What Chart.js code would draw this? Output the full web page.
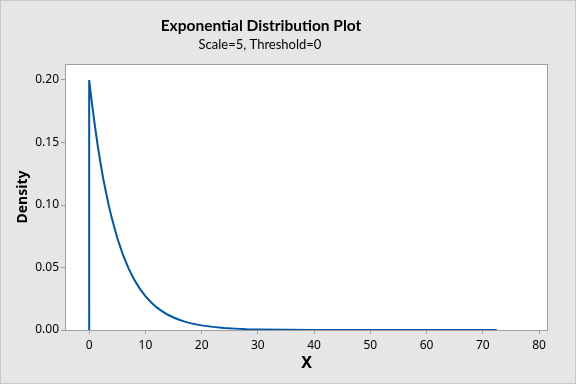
<!DOCTYPE html>
<html lang="en">

<head>
    <meta charset="UTF-8">
    <title>Exponential Distribution Plot</title>
    <script src="https://cdn.jsdelivr.net/npm/chart.js@4.4.1/dist/chart.umd.min.js"></script>
    <style>
        html, body { margin: 0; padding: 0; }
        body { width: 576px; height: 384px; overflow: hidden; }
        #wrap { position: relative; width: 574px; height: 382px; border: 1px solid #c9c9c9; background: #e6e6e6; }
    </style>
</head>

<body>
    <div id="wrap"><canvas id="expChart" width="574" height="382"></canvas></div>

    <script>
        const titleText = 'Exponential Distribution Plot';
        const subtitleText = 'Scale=5, Threshold=0';

        // density values
        const xValues = [0, 0, 0.5, 1, 1.5, 2, 2.5, 3, 3.5, 4, 5, 6, 7, 8, 9, 10, 11, 12, 13, 14, 15, 16, 17, 18, 19, 20,
            22, 24, 26, 28, 30, 35, 40, 50, 60, 72.5];
        const densityValues = [0, 0.200, 0.181, 0.164, 0.148, 0.134, 0.121, 0.110, 0.0993, 0.0899, 0.0736, 0.0602, 0.0493,
            0.0404, 0.0331, 0.0271, 0.0222, 0.0181, 0.0149, 0.0122, 0.0100, 0.0082, 0.0067, 0.0055, 0.0045, 0.0037,
            0.0025, 0.0016, 0.0011, 0.0007, 0.0005, 0.0002, 0.0001, 0.0000, 0.0000, 0.0000];

        const xTicks = [0, 10, 20, 30, 40, 50, 60, 70, 80];
        const yTicks = [0.00, 0.05, 0.10, 0.15, 0.20];

        const points = xValues.map((x, i) => ({ x: x, y: densityValues[i] }));

        const fontFamily = '"Noto Sans", "Open Sans", sans-serif';
        const titleFamily = 'Lato, "Noto Sans", sans-serif';
        const axisGray = '#a0a0a0';

        const plotFrame = {
            id: 'plotFrame',
            beforeDraw(chart) {
                const { ctx, chartArea: a } = chart;
                ctx.save();
                ctx.fillStyle = '#ffffff';
                ctx.fillRect(a.left, a.top, a.right - a.left, a.bottom - a.top);
                ctx.restore();
            },
            afterDraw(chart) {
                const { ctx, chartArea: a } = chart;
                ctx.save();
                ctx.strokeStyle = axisGray;
                ctx.lineWidth = 1;
                ctx.strokeRect(a.left + 0.5, a.top + 0.5, a.right - a.left - 1, a.bottom - a.top);
                // titles
                ctx.fillStyle = '#000000';
                ctx.textAlign = 'center';
                ctx.textBaseline = 'middle';
                ctx.font = 'bold 15.5px ' + titleFamily;
                ctx.fillText(titleText, 260, 25);
                ctx.font = '13px ' + titleFamily;
                ctx.fillText(subtitleText, 259, 44);
                ctx.restore();
            }
        };

        new Chart(document.getElementById('expChart'), {
            type: 'line',
            data: {
                datasets: [{
                    data: points,
                    borderColor: '#0056a6',
                    borderWidth: 2,
                    pointRadius: 0,
                    tension: 0,
                    fill: false
                }]
            },
            options: {
                responsive: false,
                animation: false,
                layout: { padding: { top: 63, right: 27, bottom: 0, left: 0 } },
                plugins: { legend: { display: false }, tooltip: { enabled: false } },
                scales: {
                    x: {
                        type: 'linear',
                        min: -4.3,
                        max: 81.6,
                        afterBuildTicks: scale => { scale.ticks = xTicks.map(v => ({ value: v })); },
                        afterFit: scale => { scale.height = 53; },
                        grid: { drawOnChartArea: false, drawTicks: true, tickLength: 4, color: axisGray },
                        border: { display: false },
                        ticks: { padding: 4, color: '#000', font: { family: fontFamily, size: 12 } },
                        title: {
                            display: true, text: 'X', color: '#000',
                            font: { family: fontFamily, size: 16, weight: 'bold' },
                            padding: { top: 0, bottom: 10 }
                        }
                    },
                    y: {
                        type: 'linear',
                        min: 0,
                        max: 0.2128,
                        afterBuildTicks: scale => { scale.ticks = yTicks.map(v => ({ value: v })); },
                        afterFit: scale => { scale.width = 64; },
                        grid: { drawOnChartArea: false, drawTicks: true, tickLength: 4, color: axisGray },
                        border: { display: false },
                        ticks: {
                            padding: 2, color: '#000', font: { family: fontFamily, size: 12 },
                            callback: v => v.toFixed(2)
                        },
                        title: {
                            display: true, text: 'Density', color: '#000',
                            font: { family: fontFamily, size: 14, weight: 'bold' },
                            padding: { top: 14, bottom: 0 }
                        }
                    }
                }
            },
            plugins: [plotFrame]
        });
    </script>
</body>

</html>
